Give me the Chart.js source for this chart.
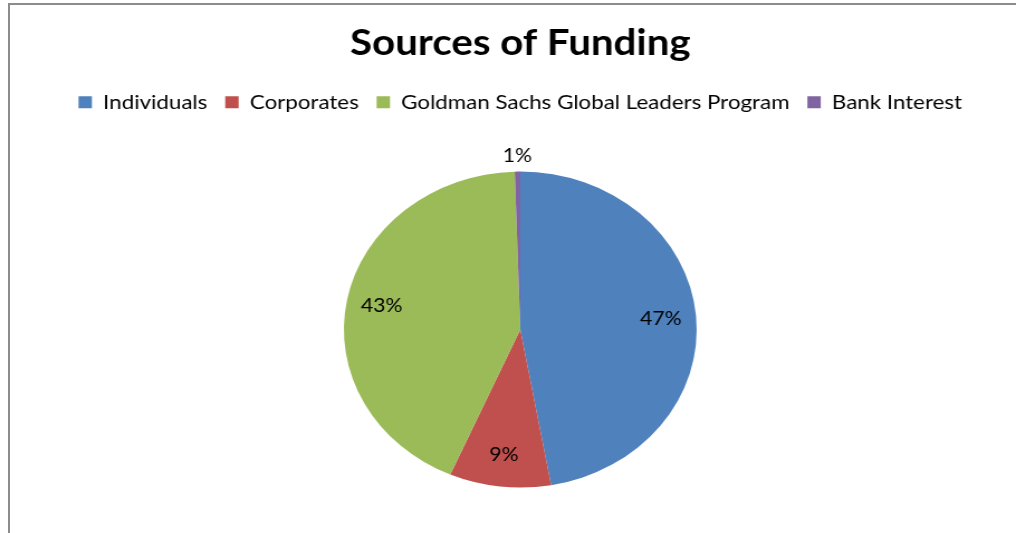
<!DOCTYPE html>
<html>
<head>
<meta charset="utf-8">
<script src="https://cdn.jsdelivr.net/npm/chart.js@4/dist/chart.umd.min.js"></script>
<style>
  html, body { margin: 0; padding: 0; background: #fff; overflow: hidden; width: 1016px; height: 533px; }
  #frame { position: absolute; left: 8px; top: 3px; width: 1100px; height: 600px;
           border-left: 2px solid #8c8c8c; border-top: 2px solid #8c8c8c; }
  #wrap { position: absolute; left: 0; top: 0; width: 924px; height: 560px;
          transform: scaleX(1.1165); transform-origin: 0 0; }
</style>
</head>
<body>
<div id="frame"></div>
<div id="wrap"><canvas id="fundingChart"></canvas></div>
<script>
// Sources of Funding (share of total, %)
var categories = ['Individuals', 'Corporates', 'Goldman Sachs Global Leaders Program', 'Bank Interest'];
var shares = [47.2, 9.3, 43.0, 0.5];
var sliceColors = ['#4F81BD', '#C0504D', '#9BBB59', '#8064A2'];

// percent labels on the slices, small ones go outside
var pieLabels = {
    id: 'pieLabels',
    afterDatasetsDraw: function (chart) {
        var ctx = chart.ctx;
        var meta = chart.getDatasetMeta(0);
        var values = chart.data.datasets[0].data;
        var total = values.reduce((a, b) => a + b, 0);
        ctx.save();
        ctx.font = '19px Lato';
        ctx.fillStyle = '#000';
        ctx.textAlign = 'center';
        ctx.textBaseline = 'middle';
        meta.data.forEach((arc, i) => {
            var p = arc.getProps(['x', 'y', 'startAngle', 'endAngle', 'outerRadius'], true);
            var mid = (p.startAngle + p.endAngle) / 2;
            var pct = values[i] * 100 / total;
            var r = pct < 2 ? p.outerRadius + 16 : p.outerRadius * 0.8;
            ctx.fillText(Math.round(pct) + '%', p.x + Math.cos(mid) * r, p.y + Math.sin(mid) * r);
        });
        ctx.restore();
    }
};

var ctx = document.getElementById('fundingChart').getContext('2d');
var chart = new Chart(ctx, {
    type: 'pie',
    data: {
        labels: categories,
        datasets: [{
            data: shares,
            backgroundColor: sliceColors,
            borderWidth: 0,
            radius: 158
        }]
    },
    options: {
        responsive: true,
        maintainAspectRatio: false,
        animation: false,
        layout: {
            padding: { left: 8, right: 0, top: 0, bottom: 23 }
        },
        plugins: {
            title: {
                display: true,
                text: 'Sources of Funding',
                color: '#000',
                font: { family: 'Lato', size: 36, weight: 'bold' },
                padding: { top: 22, bottom: 11 }
            },
            legend: {
                position: 'top',
                labels: {
                    color: '#000',
                    font: { family: 'Lato', size: 20 },
                    boxWidth: 12,
                    boxHeight: 12,
                    padding: 16
                }
            },
            tooltip: { enabled: false }
        }
    },
    plugins: [pieLabels]
});
</script>
</body>
</html>
